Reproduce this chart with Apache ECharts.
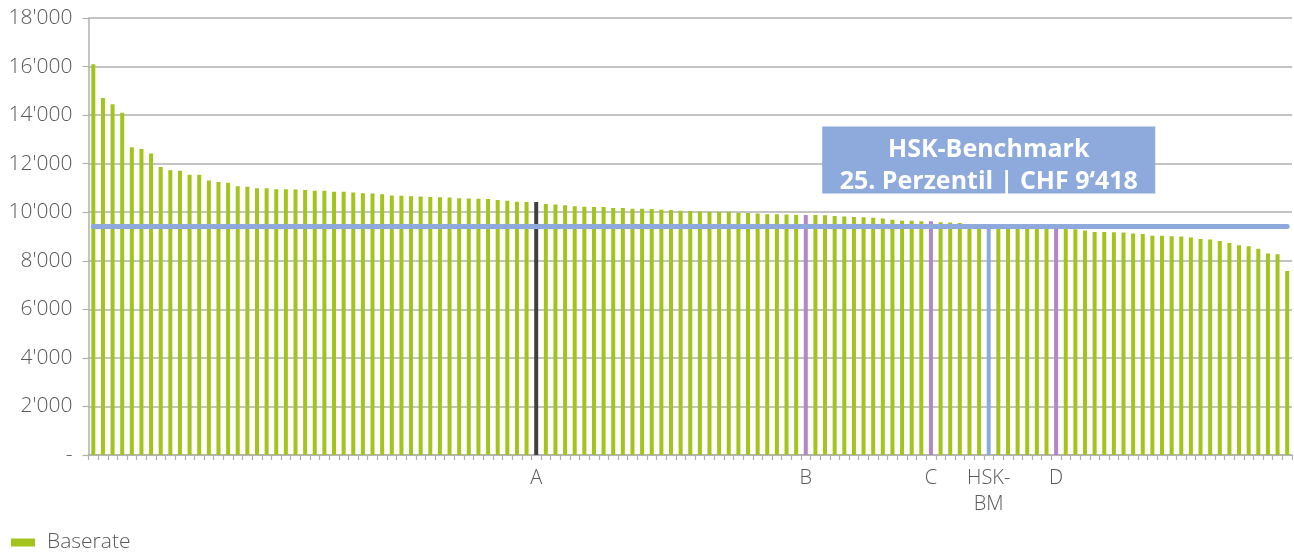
<!DOCTYPE html>
<html>
<head>
<meta charset="utf-8">
<script src="https://cdn.jsdelivr.net/npm/echarts@6/dist/echarts.min.js"></script>
<style>
  html, body { margin: 0; padding: 0; background: #ffffff; }
  #chart { width: 1294px; height: 554px; }
</style>
</head>
<body>
<div id="chart"></div>
<script>
// Baserate per hospital, sorted from highest to lowest (CHF)
const baserates = [
  16100, 14700, 14450, 14100, 12680, 12600, 12420, 11860, 11730, 11710,
  11540, 11540, 11310, 11250, 11210, 11070, 11050, 10990, 10990, 10950,
  10950, 10940, 10920, 10880, 10880, 10840, 10840, 10810, 10780, 10770,
  10740, 10690, 10680, 10660, 10650, 10630, 10620, 10610, 10580, 10570,
  10550, 10540, 10500, 10470, 10430, 10420, 10420, 10340, 10320, 10290,
  10250, 10230, 10210, 10210, 10170, 10170, 10140, 10140, 10130, 10100,
  10090, 10060, 10050, 10030, 10020, 10020, 10020, 9980, 9970, 9950,
  9920, 9920, 9910, 9890, 9890, 9890, 9880, 9840, 9820, 9800,
  9790, 9770, 9740, 9690, 9650, 9650, 9630, 9630, 9590, 9580,
  9560, 9520, 9470, 9418, 9410, 9400, 9390, 9380, 9360, 9350,
  9340, 9330, 9300, 9250, 9190, 9190, 9180, 9160, 9120, 9100,
  9030, 9030, 9010, 9000, 8960, 8900, 8880, 8810, 8730, 8640,
  8600, 8500, 8300, 8270, 7580
];

// Benchmark: 25th percentile of all baserates
const benchmark = 9418;

// Rank positions used as categories
const ranks = baserates.map((_, i) => String(i + 1));

// Highlighted hospitals: rank index -> axis label
const markerIndex = [46, 74, 87, 93, 100];
const markerLabel = ['A', 'B', 'C', 'HSK-\nBM', 'D'];
const markerColor = ['#404040', '#b387c3', '#b387c3', '#8eaadc', '#b387c3'];

// Y axis tick values
const yTicks = [0, 2000, 4000, 6000, 8000, 10000, 12000, 14000, 16000, 18000];

const GREEN = '#a3c41c';
const BLUE = '#8eaadc';
const TEXT = '#595959';
const FONT = 'Open Sans';

function swissThousands(v, sep) {
  return String(v).replace(/\B(?=(\d{3})+(?!\d))/g, sep);
}

const labelByRank = {};
markerIndex.forEach((idx, k) => { labelByRank[ranks[idx]] = markerLabel[k]; });

const barData = baserates.map((v, i) => {
  const k = markerIndex.indexOf(i);
  return k >= 0 ? { value: v, itemStyle: { color: markerColor[k] } } : v;
});

const chart = echarts.init(document.getElementById('chart'), null, { renderer: 'canvas' });

chart.setOption({
  animation: false,
  textStyle: { fontFamily: FONT },
  grid: { left: 88.5, right: 2, top: 18, bottom: 99, containLabel: false },
  legend: {
    left: 6,
    top: 527,
    icon: 'rect',
    itemWidth: 24,
    itemHeight: 8,
    itemGap: 10,
    textStyle: { color: TEXT, fontSize: 21, fontWeight: 300, fontFamily: FONT, padding: [0, 0, 0, 7] },
    data: ['Baserate']
  },
  xAxis: {
    type: 'category',
    data: ranks,
    boundaryGap: true,
    axisLine: { show: true, lineStyle: { color: '#b0b0b0', width: 1.5 } },
    axisTick: { show: true, interval: 0, length: 5, lineStyle: { color: '#b0b0b0', width: 1.2 } },
    axisLabel: {
      interval: 0,
      margin: 10,
      color: TEXT,
      fontSize: 20,
      fontWeight: 300,
      lineHeight: 26,
      fontFamily: FONT,
      formatter: (r) => labelByRank[r] || ''
    },
    splitLine: { show: false }
  },
  yAxis: {
    type: 'value',
    min: yTicks[0],
    max: yTicks[yTicks.length - 1],
    interval: yTicks[1] - yTicks[0],
    axisLine: { show: true, lineStyle: { color: '#b0b0b0', width: 1.5 } },
    axisTick: { show: true, inside: false, length: 6, lineStyle: { color: '#b0b0b0', width: 1.2 } },
    axisLabel: {
      margin: 16,
      color: TEXT,
      fontSize: 21,
      fontWeight: 300,
      fontFamily: FONT,
      formatter: (v) => v === 0 ? '-' : swissThousands(v, "'")
    },
    splitLine: { show: true, lineStyle: { color: '#b0b0b0', width: 1.5 } }
  },
  series: [{
    name: 'Baserate',
    type: 'bar',
    data: barData,
    barWidth: 4,
    itemStyle: { color: GREEN },
    markLine: {
      silent: true,
      symbol: ['none', 'none'],
      label: { show: false },
      lineStyle: { color: BLUE, width: 5, type: 'solid', cap: 'round' },
      data: [[
        { coord: [ranks[0], benchmark] },
        { coord: [ranks[ranks.length - 1], benchmark] }
      ]]
    },
    markPoint: {
      silent: true,
      symbol: 'rect',
      symbolSize: [333, 67],
      itemStyle: { color: BLUE },
      label: {
        show: true,
        position: 'inside',
        offset: [0, 6],
        color: '#ffffff',
        fontSize: 25,
        fontWeight: 'bold',
        lineHeight: 32,
        fontFamily: FONT,
        align: 'center',
        formatter: 'HSK-Benchmark\n25. Perzentil | CHF ' + swissThousands(benchmark, '\u2018')
      },
      data: [{ coord: [ranks[93], 12150] }]
    }
  }]
});
</script>
</body>
</html>
